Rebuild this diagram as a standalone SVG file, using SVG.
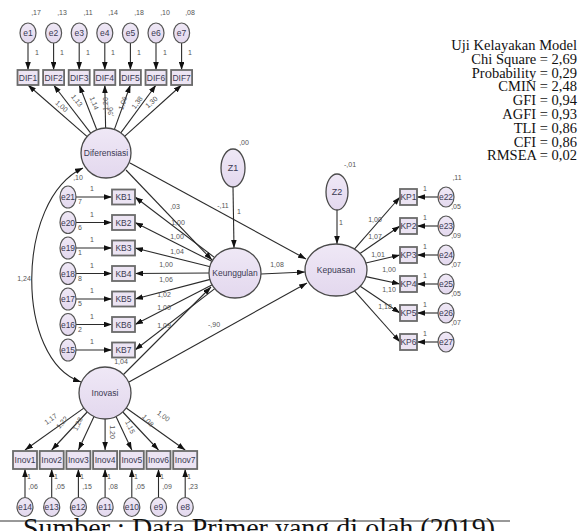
<svg xmlns="http://www.w3.org/2000/svg" width="587" height="531" viewBox="0 0 587 531">
<defs>
<linearGradient id="gf" x1="0" y1="0" x2="0" y2="1"><stop offset="0" stop-color="#efe8f6"/><stop offset="1" stop-color="#e3d8ee"/></linearGradient>
<marker id="ah" viewBox="0 0 10 7" refX="10" refY="3.5" markerWidth="8" markerHeight="5.6" markerUnits="userSpaceOnUse" orient="auto-start-reverse"><path d="M0,0 L10,3.5 L0,7 z" fill="#111"/></marker>
<style>
.lat{fill:url(#gf);stroke:#4a4a4a;stroke-width:1.3}
.err{fill:url(#gf);stroke:#555;stroke-width:1.2}
.box{fill:#ece4f3;stroke:#6a6a6a;stroke-width:1.8}
.ln{stroke:#2b2b2b;stroke-width:1.1;fill:none;marker-end:url(#ah)}
.t{font-family:"Liberation Sans",Arial,sans-serif;font-size:8.5px;fill:#3a3a52;text-anchor:middle}
.tl{font-family:"Liberation Sans",Arial,sans-serif;font-size:9px;fill:#3a3a52;text-anchor:middle}
.n{font-family:"Liberation Sans",Arial,sans-serif;font-size:7px;fill:#555;text-anchor:middle}
.fit{font-family:"Liberation Serif","Times New Roman",serif;font-size:14.5px;fill:#111;text-anchor:end}
.cap{font-family:"Liberation Serif","Times New Roman",serif;font-size:28px;fill:#111}
</style>
</defs>

<g id="connectors">
<line class="ln" x1="28" y1="43" x2="28" y2="70"/>
<line class="ln" x1="53.6" y1="43" x2="53.6" y2="70"/>
<line class="ln" x1="79.2" y1="43" x2="79.2" y2="70"/>
<line class="ln" x1="104.8" y1="43" x2="104.8" y2="70"/>
<line class="ln" x1="130.4" y1="43" x2="130.4" y2="70"/>
<line class="ln" x1="156" y1="43" x2="156" y2="70"/>
<line class="ln" x1="181.6" y1="43" x2="181.6" y2="70"/>
<line class="ln" x1="87.2" y1="136.6" x2="28" y2="85"/>
<line class="ln" x1="90.7" y1="133.2" x2="53.6" y2="85"/>
<line class="ln" x1="96.8" y1="129.8" x2="79.2" y2="85"/>
<line class="ln" x1="105.6" y1="128" x2="104.8" y2="85"/>
<line class="ln" x1="114.4" y1="129.4" x2="130.4" y2="85"/>
<line class="ln" x1="120.8" y1="132.9" x2="156" y2="85"/>
<line class="ln" x1="124.6" y1="136.3" x2="181.6" y2="85"/>
<line class="ln" x1="76" y1="197" x2="112" y2="197"/>
<line class="ln" x1="76" y1="222.5" x2="112" y2="222.5"/>
<line class="ln" x1="76" y1="248" x2="112" y2="248"/>
<line class="ln" x1="76" y1="273.5" x2="112" y2="273.5"/>
<line class="ln" x1="76" y1="299" x2="112" y2="299"/>
<line class="ln" x1="76" y1="324.5" x2="112" y2="324.5"/>
<line class="ln" x1="76" y1="350" x2="112" y2="350"/>
<line class="ln" x1="214.7" y1="257.6" x2="135" y2="197"/>
<line class="ln" x1="212.2" y1="261.5" x2="135" y2="222.5"/>
<line class="ln" x1="210.3" y1="266.8" x2="135" y2="248"/>
<line class="ln" x1="209.5" y1="273" x2="135" y2="273.5"/>
<line class="ln" x1="210.3" y1="279.4" x2="135" y2="299"/>
<line class="ln" x1="212.3" y1="284.7" x2="135" y2="324.5"/>
<line class="ln" x1="214.8" y1="288.6" x2="135" y2="350"/>
<line class="ln" x1="126" y1="170" x2="212" y2="260"/>
<line class="ln" x1="130" y1="163" x2="306" y2="259"/>
<line class="ln" x1="122" y1="376" x2="211" y2="287"/>
<line class="ln" x1="129" y1="382" x2="307" y2="283"/>
<line class="ln" x1="261" y1="274" x2="305" y2="272"/>
<line class="ln" x1="233" y1="187" x2="234" y2="248"/>
<line class="ln" x1="337" y1="210" x2="337" y2="244"/>
<line class="ln" x1="354.4" y1="249.1" x2="400" y2="197"/>
<line class="ln" x1="360" y1="253.5" x2="400" y2="226"/>
<line class="ln" x1="365.9" y1="263" x2="400" y2="255"/>
<line class="ln" x1="366" y1="276.6" x2="400" y2="284"/>
<line class="ln" x1="360.2" y1="286.3" x2="400" y2="313"/>
<line class="ln" x1="354.5" y1="290.8" x2="400" y2="342"/>
<line class="ln" x1="438" y1="197" x2="417" y2="197"/>
<line class="ln" x1="438" y1="226" x2="417" y2="226"/>
<line class="ln" x1="438" y1="255" x2="417" y2="255"/>
<line class="ln" x1="438" y1="284" x2="417" y2="284"/>
<line class="ln" x1="438" y1="313" x2="417" y2="313"/>
<line class="ln" x1="438" y1="342" x2="417" y2="342"/>
<line class="ln" x1="83.8" y1="408.1" x2="25" y2="450"/>
<line class="ln" x1="87.2" y1="412" x2="51.7" y2="450"/>
<line class="ln" x1="94" y1="416.6" x2="78.4" y2="450"/>
<line class="ln" x1="105.1" y1="419" x2="105.1" y2="450"/>
<line class="ln" x1="116" y1="416.5" x2="131.8" y2="450"/>
<line class="ln" x1="122.8" y1="412" x2="158.5" y2="450"/>
<line class="ln" x1="126.2" y1="408" x2="185.2" y2="450"/>
<line class="ln" x1="25" y1="497.5" x2="25" y2="469"/>
<line class="ln" x1="51.7" y1="497.5" x2="51.7" y2="469"/>
<line class="ln" x1="78.4" y1="497.5" x2="78.4" y2="469"/>
<line class="ln" x1="105.1" y1="497.5" x2="105.1" y2="469"/>
<line class="ln" x1="131.8" y1="497.5" x2="131.8" y2="469"/>
<line class="ln" x1="158.5" y1="497.5" x2="158.5" y2="469"/>
<line class="ln" x1="185.2" y1="497.5" x2="185.2" y2="469"/>
<path class="ln" d="M83,168 C15,200 15,360 81,382" style="marker-start:url(#ah)"/>
</g>

<g id="path-labels">
<text class="n" x="37" y="55">1</text><text class="n" x="62" y="55">1</text><text class="n" x="88" y="55">1</text><text class="n" x="113" y="55">1</text><text class="n" x="139" y="55">1</text><text class="n" x="165" y="55">1</text><text class="n" x="190" y="55">1</text>
<text class="n" transform="translate(60,108) rotate(41)">1,00</text>
<text class="n" transform="translate(75,102) rotate(52)">1,13</text>
<text class="n" transform="translate(92,104) rotate(68)">1,14</text>
<text class="n" transform="translate(108,104) rotate(-90)">1,20</text>
<text class="n" transform="translate(113,112) rotate(-90)">,96</text>
<text class="n" transform="translate(125,104) rotate(-70)">1,06</text>
<text class="n" transform="translate(139,104) rotate(-54)">1,38</text>
<text class="n" transform="translate(153,104) rotate(-42)">1,30</text>
<text class="n" x="78" y="180">,10</text>
<text class="n" x="24" y="281">1,24</text>
<text class="n" x="92" y="191">1</text><text class="n" x="92" y="216.5">1</text><text class="n" x="92" y="242">1</text><text class="n" x="92" y="267.5">1</text><text class="n" x="92" y="293">1</text><text class="n" x="92" y="318.5">1</text><text class="n" x="92" y="344">1</text>
<text class="n" x="80" y="204">7</text><text class="n" x="80" y="229.5">6</text><text class="n" x="80" y="255">1</text><text class="n" x="80" y="280.5">8</text><text class="n" x="80" y="306">5</text><text class="n" x="80" y="331.5">2</text>
<text class="n" x="175" y="209">,03</text>
<text class="n" x="178" y="225">1,00</text>
<text class="n" x="177" y="239">1,00</text>
<text class="n" x="177" y="254">1,04</text>
<text class="n" x="166" y="267">1,00</text>
<text class="n" x="166" y="282">1,06</text>
<text class="n" x="164" y="297">1,02</text>
<text class="n" x="164" y="310">1,00</text>
<text class="n" x="164" y="328">1,09</text>
<text class="n" x="121" y="364">1,04</text>
<text class="n" x="214" y="327">-,90</text>
<text class="n" x="223" y="208">-,11</text>
<text class="n" x="239" y="214">1</text>
<text class="n" x="244" y="145">,00</text>
<text class="n" x="277" y="267">1,08</text>
<text class="n" x="350" y="167">-,01</text>
<text class="n" x="341" y="225">1</text>
<text class="n" x="375" y="222">1,00</text>
<text class="n" x="375" y="239">1,07</text>
<text class="n" x="378" y="257">1,01</text>
<text class="n" x="389" y="272">1,00</text>
<text class="n" x="389" y="292">1,10</text>
<text class="n" x="385" y="309">1,18</text>
<text class="n" x="425" y="191">1</text><text class="n" x="425" y="220">1</text><text class="n" x="425" y="249">1</text><text class="n" x="425" y="278">1</text><text class="n" x="425" y="307">1</text><text class="n" x="425" y="336">1</text>
<text class="n" x="457" y="180">,11</text>
<text class="n" x="456" y="209">,05</text><text class="n" x="456" y="238">,09</text><text class="n" x="456" y="267">,07</text><text class="n" x="456" y="296">,05</text><text class="n" x="456" y="325">,07</text>
<text class="n" transform="translate(52,421) rotate(-35)">1,17</text>
<text class="n" transform="translate(64,424) rotate(-50)">1,22</text>
<text class="n" transform="translate(80,425) rotate(-65)">1,28</text>
<text class="n" transform="translate(110,432) rotate(90)">1,20</text>
<text class="n" transform="translate(128,428) rotate(65)">1,15</text>
<text class="n" transform="translate(146,422) rotate(48)">1,08</text>
<text class="n" transform="translate(162,418) rotate(35)">1,00</text>
<text class="n" x="29" y="479">1</text><text class="n" x="56" y="479">1</text><text class="n" x="82" y="479">1</text><text class="n" x="109" y="479">1</text><text class="n" x="136" y="479">1</text><text class="n" x="162" y="479">1</text><text class="n" x="189" y="479">1</text>
<text class="n" x="33" y="489">,06</text><text class="n" x="60" y="489">,05</text><text class="n" x="87" y="489">,15</text><text class="n" x="113" y="489">,08</text><text class="n" x="140" y="489">,05</text><text class="n" x="167" y="489">,09</text><text class="n" x="193" y="489">,23</text>
</g>

<g id="e1"><ellipse class="err" cx="28" cy="33" rx="8" ry="10"/><text class="t" x="28" y="36">e1</text><text class="n" x="36" y="15">,17</text></g>
<g id="e2"><ellipse class="err" cx="53.6" cy="33" rx="8" ry="10"/><text class="t" x="53.6" y="36">e2</text><text class="n" x="62" y="15">,13</text></g>
<g id="e3"><ellipse class="err" cx="79.2" cy="33" rx="8" ry="10"/><text class="t" x="79.2" y="36">e3</text><text class="n" x="88" y="15">,11</text></g>
<g id="e4"><ellipse class="err" cx="104.8" cy="33" rx="8" ry="10"/><text class="t" x="104.8" y="36">e4</text><text class="n" x="113" y="15">,14</text></g>
<g id="e5"><ellipse class="err" cx="130.4" cy="33" rx="8" ry="10"/><text class="t" x="130.4" y="36">e5</text><text class="n" x="139" y="15">,18</text></g>
<g id="e6"><ellipse class="err" cx="156" cy="33" rx="8" ry="10"/><text class="t" x="156" y="36">e6</text><text class="n" x="165" y="15">,10</text></g>
<g id="e7"><ellipse class="err" cx="181.6" cy="33" rx="8" ry="10"/><text class="t" x="181.6" y="36">e7</text><text class="n" x="190" y="15">,08</text></g>

<g id="DIF1"><rect class="box" x="17.5" y="70" width="21" height="15"/><text class="t" x="28" y="81">DIF1</text></g>
<g id="DIF2"><rect class="box" x="43.1" y="70" width="21" height="15"/><text class="t" x="53.6" y="81">DIF2</text></g>
<g id="DIF3"><rect class="box" x="68.7" y="70" width="21" height="15"/><text class="t" x="79.2" y="81">DIF3</text></g>
<g id="DIF4"><rect class="box" x="94.3" y="70" width="21" height="15"/><text class="t" x="104.8" y="81">DIF4</text></g>
<g id="DIF5"><rect class="box" x="119.9" y="70" width="21" height="15"/><text class="t" x="130.4" y="81">DIF5</text></g>
<g id="DIF6"><rect class="box" x="145.5" y="70" width="21" height="15"/><text class="t" x="156" y="81">DIF6</text></g>
<g id="DIF7"><rect class="box" x="171.1" y="70" width="21" height="15"/><text class="t" x="181.6" y="81">DIF7</text></g>

<g id="Diferensiasi"><circle class="lat" cx="106" cy="153" r="25"/><text class="t" x="106" y="156">Diferensiasi</text></g>

<g id="e21"><ellipse class="err" cx="68" cy="197" rx="8" ry="11"/><text class="t" x="68" y="200">e21</text></g>
<g id="e20"><ellipse class="err" cx="68" cy="222.5" rx="8" ry="11"/><text class="t" x="68" y="225.5">e20</text></g>
<g id="e19"><ellipse class="err" cx="68" cy="248" rx="8" ry="11"/><text class="t" x="68" y="251">e19</text></g>
<g id="e18"><ellipse class="err" cx="68" cy="273.5" rx="8" ry="11"/><text class="t" x="68" y="276.5">e18</text></g>
<g id="e17"><ellipse class="err" cx="68" cy="299" rx="8" ry="11"/><text class="t" x="68" y="302">e17</text></g>
<g id="e16"><ellipse class="err" cx="68" cy="324.5" rx="8" ry="11"/><text class="t" x="68" y="327.5">e16</text></g>
<g id="e15"><ellipse class="err" cx="68" cy="350" rx="8" ry="11"/><text class="t" x="68" y="353">e15</text></g>

<g id="KB1"><rect class="box" x="112" y="189.5" width="23" height="15"/><text class="t" x="123.5" y="200">KB1</text></g>
<g id="KB2"><rect class="box" x="112" y="215" width="23" height="15"/><text class="t" x="123.5" y="225.5">KB2</text></g>
<g id="KB3"><rect class="box" x="112" y="240.5" width="23" height="15"/><text class="t" x="123.5" y="251">KB3</text></g>
<g id="KB4"><rect class="box" x="112" y="266" width="23" height="15"/><text class="t" x="123.5" y="276.5">KB4</text></g>
<g id="KB5"><rect class="box" x="112" y="291.5" width="23" height="15"/><text class="t" x="123.5" y="302">KB5</text></g>
<g id="KB6"><rect class="box" x="112" y="317" width="23" height="15"/><text class="t" x="123.5" y="327.5">KB6</text></g>
<g id="KB7"><rect class="box" x="112" y="342.5" width="23" height="15"/><text class="t" x="123.5" y="353">KB7</text></g>

<g id="Z1"><ellipse class="lat" cx="233" cy="168" rx="12" ry="19"/><text class="tl" x="233" y="171">Z1</text></g>
<g id="Keunggulan"><ellipse class="lat" cx="235" cy="273" rx="26" ry="25"/><text class="t" x="235" y="276">Keunggulan</text></g>
<g id="Z2"><ellipse class="lat" cx="337" cy="192" rx="11" ry="18"/><text class="tl" x="337" y="195">Z2</text></g>
<g id="Kepuasan"><ellipse class="lat" cx="336" cy="270" rx="31" ry="26"/><text class="t" x="336" y="273">Kepuasan</text></g>

<g id="KP1"><rect class="box" x="400" y="189" width="17" height="16"/><text class="t" x="408.5" y="200">KP1</text></g>
<g id="KP2"><rect class="box" x="400" y="218" width="17" height="16"/><text class="t" x="408.5" y="229">KP2</text></g>
<g id="KP3"><rect class="box" x="400" y="247" width="17" height="16"/><text class="t" x="408.5" y="258">KP3</text></g>
<g id="KP4"><rect class="box" x="400" y="276" width="17" height="16"/><text class="t" x="408.5" y="287">KP4</text></g>
<g id="KP5"><rect class="box" x="400" y="305" width="17" height="16"/><text class="t" x="408.5" y="316">KP5</text></g>
<g id="KP6"><rect class="box" x="400" y="334" width="17" height="16"/><text class="t" x="408.5" y="345">KP6</text></g>

<g id="e22"><ellipse class="err" cx="446" cy="197" rx="8" ry="10"/><text class="t" x="446" y="200">e22</text></g>
<g id="e23"><ellipse class="err" cx="446" cy="226" rx="8" ry="10"/><text class="t" x="446" y="229">e23</text></g>
<g id="e24"><ellipse class="err" cx="446" cy="255" rx="8" ry="10"/><text class="t" x="446" y="258">e24</text></g>
<g id="e25"><ellipse class="err" cx="446" cy="284" rx="8" ry="10"/><text class="t" x="446" y="287">e25</text></g>
<g id="e26"><ellipse class="err" cx="446" cy="313" rx="8" ry="10"/><text class="t" x="446" y="316">e26</text></g>
<g id="e27"><ellipse class="err" cx="446" cy="342" rx="8" ry="10"/><text class="t" x="446" y="345">e27</text></g>

<g id="Inovasi"><circle class="lat" cx="105" cy="393" r="26"/><text class="t" x="105" y="396">Inovasi</text></g>

<g id="Inov1"><rect class="box" x="13" y="451" width="24" height="18"/><text class="t" x="25" y="463">Inov1</text></g>
<g id="Inov2"><rect class="box" x="39.7" y="451" width="24" height="18"/><text class="t" x="51.7" y="463">Inov2</text></g>
<g id="Inov3"><rect class="box" x="66.4" y="451" width="24" height="18"/><text class="t" x="78.4" y="463">Inov3</text></g>
<g id="Inov4"><rect class="box" x="93.1" y="451" width="24" height="18"/><text class="t" x="105.1" y="463">Inov4</text></g>
<g id="Inov5"><rect class="box" x="119.8" y="451" width="24" height="18"/><text class="t" x="131.8" y="463">Inov5</text></g>
<g id="Inov6"><rect class="box" x="146.5" y="451" width="24" height="18"/><text class="t" x="158.5" y="463">Inov6</text></g>
<g id="Inov7"><rect class="box" x="173.2" y="451" width="24" height="18"/><text class="t" x="185.2" y="463">Inov7</text></g>

<g id="e14"><ellipse class="err" cx="25" cy="507" rx="8" ry="9.5"/><text class="t" x="25" y="510">e14</text></g>
<g id="e13"><ellipse class="err" cx="51.7" cy="507" rx="8" ry="9.5"/><text class="t" x="51.7" y="510">e13</text></g>
<g id="e12"><ellipse class="err" cx="78.4" cy="507" rx="8" ry="9.5"/><text class="t" x="78.4" y="510">e12</text></g>
<g id="e11"><ellipse class="err" cx="105.1" cy="507" rx="8" ry="9.5"/><text class="t" x="105.1" y="510">e11</text></g>
<g id="e10"><ellipse class="err" cx="131.8" cy="507" rx="8" ry="9.5"/><text class="t" x="131.8" y="510">e10</text></g>
<g id="e9"><ellipse class="err" cx="158.5" cy="507" rx="8" ry="9.5"/><text class="t" x="158.5" y="510">e9</text></g>
<g id="e8"><ellipse class="err" cx="185.2" cy="507" rx="8" ry="9.5"/><text class="t" x="185.2" y="510">e8</text></g>

<g id="fit-indices">
<text class="fit" x="577" y="50">Uji Kelayakan Model</text>
<text class="fit" x="577" y="63.8">Chi Square = 2,69</text>
<text class="fit" x="577" y="77.6">Probability = 0,29</text>
<text class="fit" x="577" y="91.4">CMIN = 2,48</text>
<text class="fit" x="577" y="105.2">GFI = 0,94</text>
<text class="fit" x="577" y="119">AGFI = 0,93</text>
<text class="fit" x="577" y="132.8">TLI = 0,86</text>
<text class="fit" x="577" y="146.6">CFI = 0,86</text>
<text class="fit" x="577" y="160.4">RMSEA = 0,02</text>
</g>

<g id="caption">
<line x1="0" y1="521" x2="510" y2="521" stroke="#333" stroke-width="1"/>
<text class="cap" x="23" y="537">Sumber : Data Primer yang di olah (2019)</text>
</g>
</svg>
